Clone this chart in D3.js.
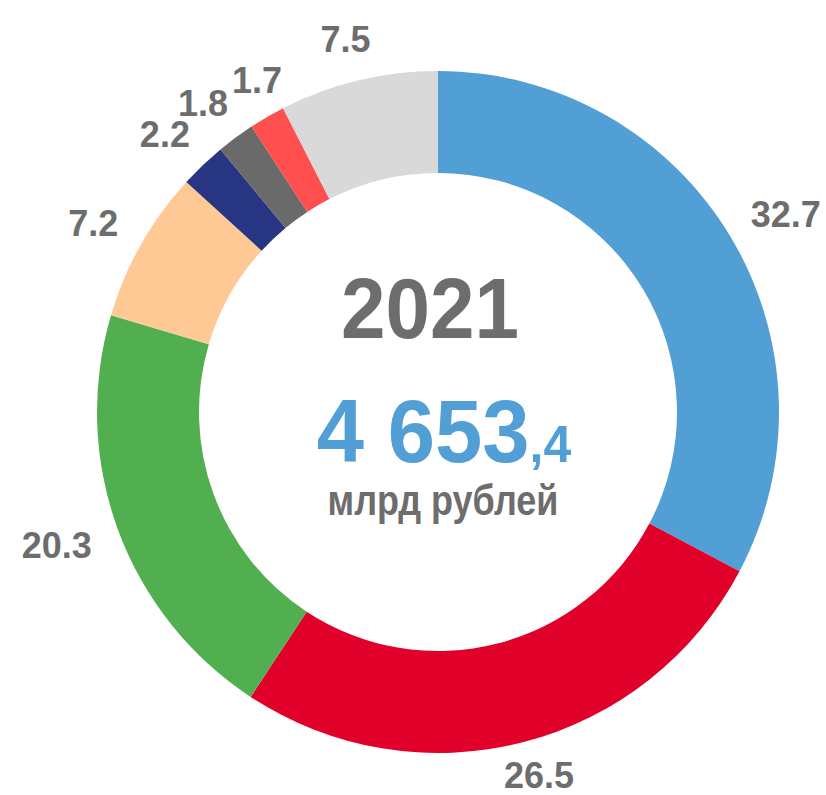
<!DOCTYPE html>
<html>
<head>
<meta charset="utf-8">
<script src="https://cdn.jsdelivr.net/npm/d3@7"></script>
<style>
  body { margin: 0; background: #fff; }
  text { font-family: "Liberation Sans", Arial, sans-serif; font-weight: bold; }
</style>
</head>
<body>
<script>
// shares, %
const values = [32.7, 26.5, 20.3, 7.2, 2.2, 1.8, 1.7, 7.5]
const labels = ["32.7", "26.5", "20.3", "7.2", "2.2", "1.8", "1.7", "7.5"]
const colors = ["#529fd6", "#e1002a", "#52af50", "#fec995", "#283583", "#6a6a6a", "#ff4f4f", "#d9d9d9"]
const year = "2021"
const totalMain = "4 653"
const totalFrac = ",4"
const unit = "млрд рублей"

const W = 826, H = 795
const cx = 438, cy = 412
const R = 341, r = 239

const svg = d3.select("body").append("svg")
  .attr("width", W)
  .attr("height", H)

const g = svg.append("g").attr("transform", `translate(${cx},${cy})`)

const pie = d3.pie().sort(null).value(d => d)
const arcs = pie(values)
const arc = d3.arc().innerRadius(r).outerRadius(R)

// ring
g.selectAll("path.slice")
  .data(arcs)
  .enter().append("path")
  .attr("class", "slice")
  .attr("d", arc)
  .attr("fill", (d, i) => colors[i])

// outside labels, box pushed outward from a point just past the ring
const lr = R + 30
const capH = 27
let prev = null
g.selectAll("text.lbl")
  .data(arcs)
  .enter().append("text")
  .attr("class", "lbl")
  .attr("font-size", 36)
  .attr("fill", "#6d6d6d")
  .attr("text-anchor", "middle")
  .text((d, i) => labels[i])
  .each(function (d) {
    const a = (d.startAngle + d.endAngle) / 2
    const w = this.getBBox().width
    let px = lr * Math.sin(a) + Math.sin(a) * w / 2
    let py = -lr * Math.cos(a) - Math.cos(a) * capH / 2
    // keep inside the picture
    py = Math.min(py, H - cy - capH / 2 - 7)
    // push right if it hits the previous label
    if (prev) {
      const oy = (capH + 4) - Math.abs(py - prev.y)
      const ox = (w + prev.w) / 2 + 4 - Math.abs(px - prev.x)
      if (oy > 0 && ox > 0) px += ox
    }
    prev = { x: px, y: py, w: w }
    d3.select(this)
      .attr("transform", `translate(${px},${py + capH / 2}) scale(1,1.04)`)
  })

// center texts
svg.append("text")
  .attr("transform", "translate(430,338) scale(1,1.07)")
  .attr("text-anchor", "middle")
  .attr("font-size", 80)
  .attr("fill", "#6d6d6d")
  .text(year)

const tot = svg.append("text")
  .attr("transform", "translate(444,462) scale(1,1.05)")
  .attr("text-anchor", "middle")
  .attr("fill", "#529fd6")
tot.append("tspan").attr("font-size", 85).text(totalMain)
tot.append("tspan").attr("font-size", 50).text(totalFrac)

svg.append("text")
  .attr("transform", "translate(443,515) scale(1,1.2)")
  .attr("text-anchor", "middle")
  .attr("font-size", 36)
  .attr("fill", "#6d6d6d")
  .text(unit)
</script>
</body>
</html>
